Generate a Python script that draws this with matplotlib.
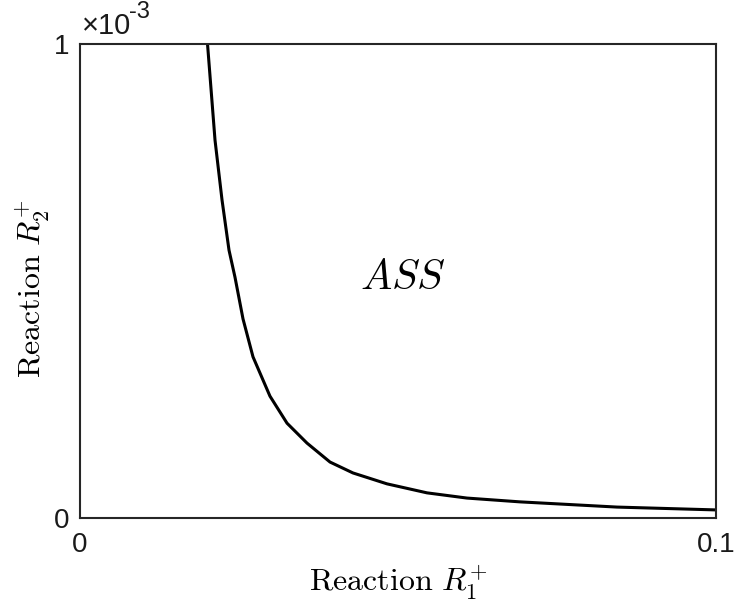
import matplotlib.pyplot as plt
from matplotlib.ticker import FuncFormatter

plt.rcParams['mathtext.fontset'] = 'cm'
plt.rcParams['font.family'] = ['Liberation Sans', 'DejaVu Sans']

# boundary of the ASS region in the (R1+, R2+) plane
r1 = [0.02005, 0.02123, 0.02233, 0.02343, 0.02437, 0.02563, 0.02720, 0.02987,
      0.03255, 0.03569, 0.03931, 0.04292, 0.04827, 0.05456, 0.06085, 0.06918,
      0.08443, 0.1000]
r2 = [1.000e-3, 0.797e-3, 0.671e-3, 0.565e-3, 0.508e-3, 0.420e-3, 0.340e-3, 0.257e-3,
      0.200e-3, 0.158e-3, 0.118e-3, 0.095e-3, 0.072e-3, 0.053e-3, 0.042e-3, 0.034e-3,
      0.023e-3, 0.017e-3]

xticks = [0, 0.1]
yticks = [0, 1e-3]
ylabels = ['0', '1']

fig = plt.figure(figsize=(7.36, 6), dpi=100)
ax = fig.add_axes([0.1087, 0.1367, 0.8641, 0.79])

ax.plot(r1, r2, color='black', lw=2.2)

ax.set_xlim(0, 0.1)
ax.set_ylim(0, 1e-3)
ax.set_xticks(xticks)
ax.set_xticklabels(['0', '0.1'])
ax.set_yticks(yticks)
ax.yaxis.set_major_formatter(FuncFormatter(lambda v, p: ylabels[yticks.index(v)] if v in yticks else ''))
ax.tick_params(direction='in', length=0, labelsize=20, pad=8, colors='#1a1a1a')
ax.tick_params(axis='x', pad=10)
for s in ax.spines.values():
    s.set_linewidth(1.5)
    s.set_color('#262626')

# scale factor for the y axis
ax.text(0.003, 1.008, '×10', transform=ax.transAxes,
        fontsize=21, color='#1a1a1a', ha='left', va='bottom')
ax.text(0.077, 1.045, '-3', transform=ax.transAxes,
        fontsize=17, color='#1a1a1a', ha='left', va='bottom')

ax.set_xlabel(r'$\mathrm{Reaction}\ R_1^{+}$', fontsize=23, labelpad=4)
ax.set_ylabel(r'$\mathrm{Reaction}\ R_2^{+}$', fontsize=23)
ax.yaxis.set_label_coords(-0.044, 0.483)

ax.text(0.0508, 0.506e-3, r'$ASS$', fontsize=30, ha='center', va='center')

fig.savefig('out.png', dpi=100)
